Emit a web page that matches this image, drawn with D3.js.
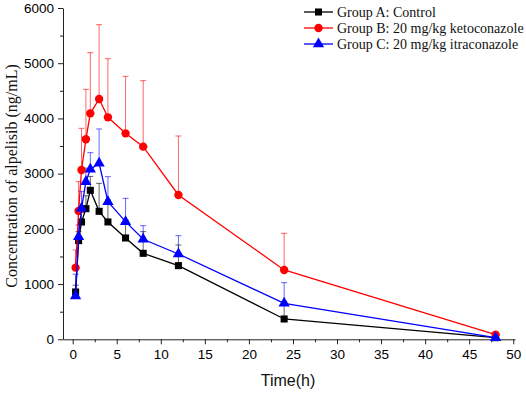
<!DOCTYPE html>
<html>
<head>
<meta charset="utf-8">
<script src="https://cdn.jsdelivr.net/npm/d3@7"></script>
<style>
  body { margin: 0; background: #fff; }
  svg { display: block; }
</style>
</head>
<body>
<svg id="drawing_region"></svg>
<script>
// sampling times (h)
const times = [0.33, 0.67, 1, 1.5, 2, 3, 4, 6, 8, 12, 24, 48];

// mean concentrations (ng/mL)
const groupA = [857, 1787, 2125, 2366, 2698, 2318, 2125, 1835, 1557, 1334, 368, 30];
const groupB = [1298, 2324, 3066, 3622, 4092, 4352, 4020, 3730, 3489, 2614, 1256, 85];
const groupC = [785, 1859, 2372, 2855, 3078, 3187, 2493, 2131, 1811, 1545, 652, 30];

// upper end of error bars (mean + SD)
const groupA_top = [980, 1950, 2300, 2600, 2950, 2825, 2523, 2160, 1950, 1708, 680, 50];
const groupB_top = [1617, 2855, 3821, 4527, 5191, 5698, 5082, 4762, 4684, 3682, 1919, 120];
const groupC_top = [1180, 2070, 2680, 3100, 3380, 3809, 2946, 2553, 2058, 1877, 1026, 60];

const xTicks = [0, 5, 10, 15, 20, 25, 30, 35, 40, 45, 50];
const yTicks = [0, 1000, 2000, 3000, 4000, 5000, 6000];

const seriesNames = ["Group A: Control", "Group B: 20 mg/kg ketoconazole", "Group C: 20 mg/kg itraconazole"];

const series = [
    { name: seriesNames[0], values: groupA, tops: groupA_top, color: "#000000", shape: d3.symbolSquare, size: 50 },
    { name: seriesNames[1], values: groupB, tops: groupB_top, color: "#ff0000", shape: d3.symbolCircle, size: 55 },
    { name: seriesNames[2], values: groupC, tops: groupC_top, color: "#0000ff", shape: d3.symbolTriangle, size: 55 }
];

const width = 526, height = 393;
const svg = d3.select("#drawing_region")
    .attr("width", width)
    .attr("height", height);

const xscale = d3.scaleLinear().domain([-1.1, 50.2]).range([63, 515]);
const yscale = d3.scaleLinear().domain([0, 6000]).range([339.3, 8]);

// minor ticks
const xMinor = xTicks.slice(0, -1).map(v => v + 2.5);
const yMinor = yTicks.slice(0, -1).map(v => v + 500);

svg.append("g")
    .attr("transform", `translate(0, ${yscale(0)})`)
    .call(d3.axisBottom(xscale).tickValues(xMinor).tickSize(3).tickFormat(""))
    .call(g => g.select(".domain").remove());

svg.append("g")
    .attr("transform", `translate(${xscale(-1.1)}, 0)`)
    .call(d3.axisLeft(yscale).tickValues(yMinor).tickSize(3).tickFormat(""))
    .call(g => g.select(".domain").remove());

const xaxis = svg.append("g")
    .attr("transform", `translate(0, ${yscale(0)})`)
    .call(d3.axisBottom(xscale).tickValues(xTicks).tickFormat(d3.format("d"))
        .tickSize(5).tickSizeOuter(0).tickPadding(5));

const yaxis = svg.append("g")
    .attr("transform", `translate(${xscale(-1.1)}, 0)`)
    .call(d3.axisLeft(yscale).tickValues(yTicks).tickFormat(d3.format("d"))
        .tickSize(5).tickSizeOuter(0).tickPadding(4));

svg.selectAll(".tick text")
    .attr("font-family", "Liberation Sans, Arial, sans-serif")
    .attr("font-size", "13.5px")
    .attr("fill", "#000");
svg.selectAll(".domain, .tick line").attr("stroke", "#222");

// axis titles
svg.append("text")
    .attr("x", 288)
    .attr("y", 386)
    .attr("text-anchor", "middle")
    .attr("font-family", "Liberation Sans, Arial, sans-serif")
    .attr("font-size", "16px")
    .attr("fill", "#111")
    .text("Time(h)");

svg.append("text")
    .attr("transform", `translate(17, 176) rotate(-90)`)
    .attr("text-anchor", "middle")
    .attr("font-family", "Liberation Serif, Times New Roman, serif")
    .attr("font-size", "16px")
    .attr("fill", "#111")
    .text("Concentration of alpelisib (ng/mL)");

const line = d3.line()
    .x(d => xscale(d.t))
    .y(d => yscale(d.v));

// error bars first (under lines)
series.forEach(s => {
    const pts = times.map((t, i) => ({ t: t, v: s.values[i], top: s.tops[i] }));
    const eg = svg.append("g")
        .attr("stroke", s.color)
        .attr("stroke-opacity", 0.6)
        .attr("stroke-width", 1);
    eg.selectAll("line.bar")
      .data(pts)
      .enter()
      .append("line")
      .attr("x1", d => xscale(d.t))
      .attr("x2", d => xscale(d.t))
      .attr("y1", d => yscale(d.v))
      .attr("y2", d => yscale(d.top));
    eg.selectAll("line.cap")
      .data(pts)
      .enter()
      .append("line")
      .attr("x1", d => xscale(d.t) - 3)
      .attr("x2", d => xscale(d.t) + 3)
      .attr("y1", d => yscale(d.top))
      .attr("y2", d => yscale(d.top));
});

series.forEach(s => {
    const pts = times.map((t, i) => ({ t: t, v: s.values[i] }));
    svg.append("path")
        .datum(pts)
        .attr("fill", "none")
        .attr("stroke", s.color)
        .attr("stroke-width", 1.3)
        .attr("d", line);

    svg.append("g")
        .selectAll("path")
        .data(pts)
        .enter()
        .append("path")
        .attr("transform", d => `translate(${xscale(d.t)}, ${yscale(d.v)})`)
        .attr("d", d3.symbol().type(s.shape).size(s.size))
        .attr("fill", s.color);
});

// legend
const legend = svg.append("g");
series.forEach((s, i) => {
    const y = 12 + i * 16;
    legend.append("line")
        .attr("x1", 304).attr("x2", 333)
        .attr("y1", y).attr("y2", y)
        .attr("stroke", s.color)
        .attr("stroke-width", 1.3);
    legend.append("path")
        .attr("transform", `translate(318.5, ${y})`)
        .attr("d", d3.symbol().type(s.shape).size(s.size))
        .attr("fill", s.color);
    legend.append("text")
        .attr("x", 337)
        .attr("y", y + 5)
        .attr("font-family", "Liberation Serif, Times New Roman, serif")
        .attr("font-size", "14px")
        .attr("fill", "#111")
        .text(s.name);
});
</script>
</body>
</html>
